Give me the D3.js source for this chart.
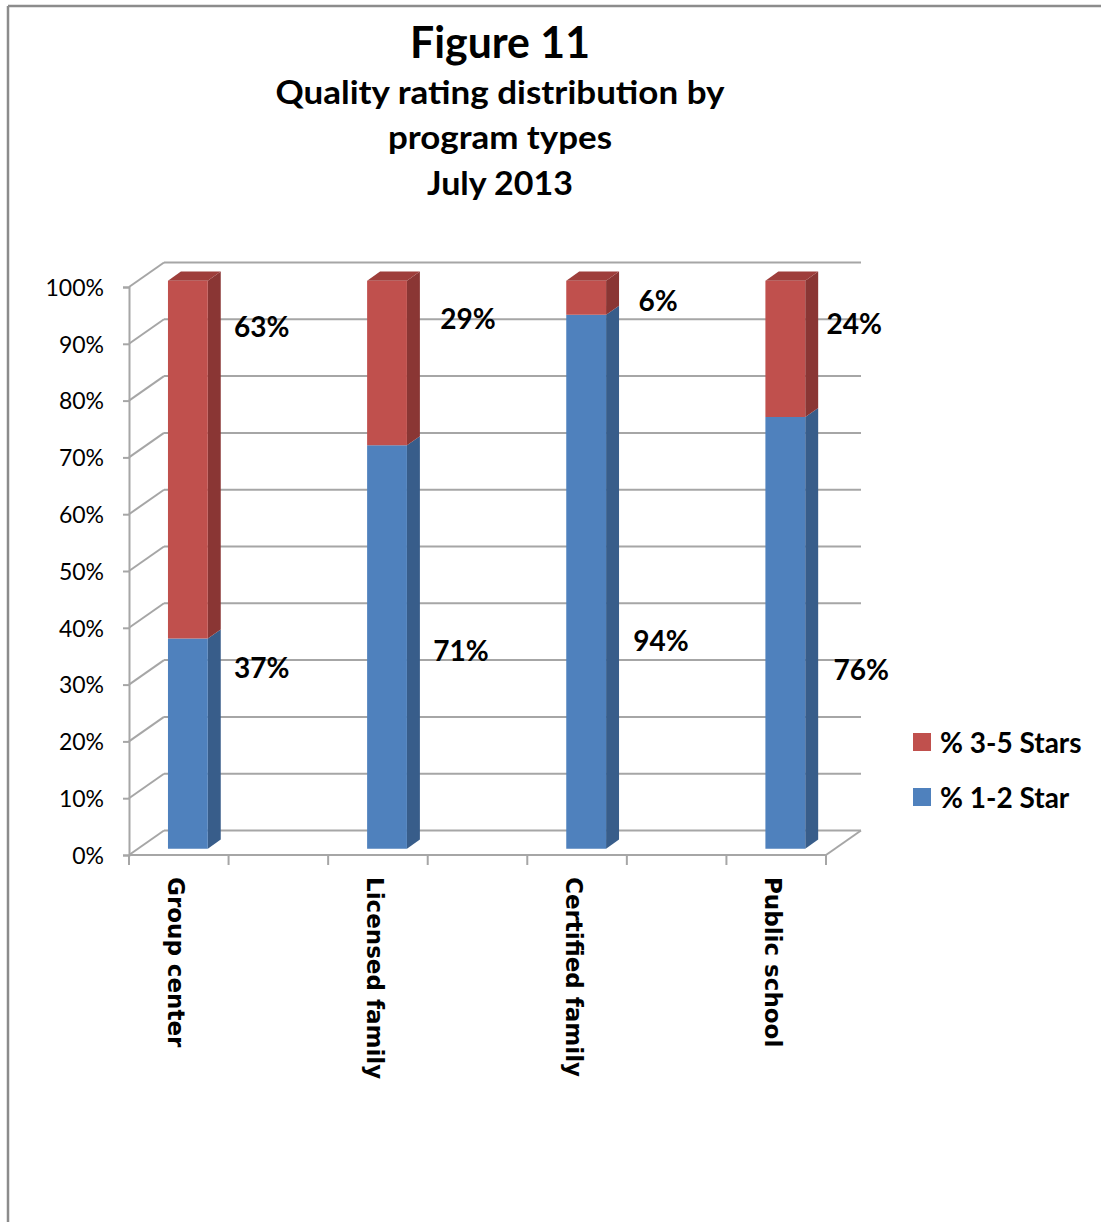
<!DOCTYPE html>
<html>
<head>
<meta charset="utf-8">
<script src="https://cdnjs.cloudflare.com/ajax/libs/d3/7.8.5/d3.min.js"></script>
<style>
  html, body { margin: 0; padding: 0; background: #fff; }
  svg { display: block; }
</style>
</head>
<body>
<svg id="chart" width="1101" height="1222"></svg>
<script>
// ---------------- data ----------------
const titleLines = ["Figure 11", "Quality rating distribution by", "program types", "July 2013"];
const categories = ["Group center", "", "Licensed family", "", "Certified family", "", "Public school"];
const star12 = [37, null, 71, null, 94, null, 76];   // % 1-2 Star
const star35 = [63, null, 29, null, 6, null, 24];    // % 3-5 Stars
const seriesNames = ["% 3-5 Stars", "% 1-2 Star"];
const yTicks = [0, 10, 20, 30, 40, 50, 60, 70, 80, 90, 100];

// ---------------- layout ----------------
const W = 1101, H = 1222;
const plot = { left: 129, right: 826, top: 287, bottom: 855 };
const DX = 35, DY = -24.5;              // depth offset of back wall
const barFront = 0.26, barBack = 0.63;  // depth fractions of bar faces
const barFrac = 0.4;                    // bar width as fraction of band
// manual data label anchors (axis units) and horizontal offsets
const topLabelAt = [93, 94.4, 97.5, 93.5];
const topLabelDx = [83, 90, 81, 78];
const botLabelAt = [33, 35.9, 37.7, 32.6];
const botLabelDx = [83, 83, 84, 85];

const colors = {
  redFront: "#C0504D", redSide: "#8A3634", redTop: "#9E3E3B",
  blueFront: "#4F81BD", blueSide: "#385D8A", blueTop: "#4470A5",
  grid: "#A6A6A6"
};
const FONT = "Lato, 'Open Sans', sans-serif";

const svg = d3.select("#chart");

// outer border (top and left)
svg.append("line").attr("x1", 8).attr("y1", 6).attr("x2", W).attr("y2", 6)
  .attr("stroke", "#8c8c8c").attr("stroke-width", 2.5);
svg.append("line").attr("x1", 8).attr("y1", 6).attr("x2", 8).attr("y2", H)
  .attr("stroke", "#8c8c8c").attr("stroke-width", 2.5);

// title
const titleSpec = [
  { y: 58, size: 44, len: 180 },
  { y: 104, size: 33, len: 449 },
  { y: 149, size: 33, len: 224 },
  { y: 195, size: 33, len: 146 }
];
svg.append("g").selectAll("text").data(titleLines).join("text")
  .attr("x", 500).attr("y", (d, i) => titleSpec[i].y)
  .attr("text-anchor", "middle")
  .attr("font-family", FONT).attr("font-weight", "bold")
  .attr("font-size", (d, i) => titleSpec[i].size)
  .attr("textLength", (d, i) => titleSpec[i].len)
  .attr("lengthAdjust", "spacingAndGlyphs")
  .attr("fill", "#000")
  .text(d => d);

// scales
const x = d3.scaleBand().domain(d3.range(categories.length))
  .range([plot.left, plot.right]).paddingInner(0).paddingOuter(0);
const y = d3.scaleLinear().domain([0, 100]).range([plot.bottom, plot.top]);
const P = (px, v, d) => [px + d * DX, y(v) + d * DY];

// gridlines: back wall + left wall diagonals
const grid = svg.append("g").attr("stroke", colors.grid).attr("stroke-width", 2).attr("fill", "none");
grid.selectAll("line.back").data(yTicks).join("line").attr("class", "back")
  .attr("x1", plot.left + DX).attr("x2", plot.right + DX)
  .attr("y1", d => y(d) + DY).attr("y2", d => y(d) + DY);
grid.selectAll("line.side").data(yTicks).join("line").attr("class", "side")
  .attr("x1", plot.left).attr("y1", d => y(d))
  .attr("x2", plot.left + DX).attr("y2", d => y(d) + DY);
// floor outline: right edge
grid.append("line")
  .attr("x1", plot.right).attr("y1", y(0))
  .attr("x2", plot.right + DX).attr("y2", y(0) + DY);

// y axis
const yAxis = svg.append("g").attr("transform", `translate(${plot.left},0)`)
  .call(d3.axisLeft(y).tickValues(yTicks).tickFormat(d => d + "%").tickSize(6).tickPadding(19));
yAxis.select(".domain").attr("stroke", colors.grid).attr("stroke-width", 2);
yAxis.selectAll(".tick line").attr("stroke", colors.grid).attr("stroke-width", 2);
yAxis.selectAll(".tick text").attr("font-family", FONT).attr("font-size", 23)
  .attr("fill", "#000").attr("dy", "0.36em");

// x axis (floor front edge + boundary ticks)
const xAxis = svg.append("g");
xAxis.append("line").attr("x1", plot.left).attr("x2", plot.right)
  .attr("y1", y(0)).attr("y2", y(0)).attr("stroke", colors.grid).attr("stroke-width", 2);
const bounds = d3.range(categories.length).map(i => x(i)).concat([plot.right]);
xAxis.selectAll("line.tick").data(bounds).join("line").attr("class", "tick")
  .attr("x1", d => d).attr("x2", d => d)
  .attr("y1", y(0)).attr("y2", y(0) + 10)
  .attr("stroke", colors.grid).attr("stroke-width", 2);
const xLab = svg.append("g").attr("transform", `translate(0,${y(0)})`)
  .call(d3.axisBottom(x).tickSize(0).tickFormat(i => categories[i]));
xLab.select(".domain").remove();
xLab.selectAll(".tick text")
  .attr("font-family", "'DejaVu Sans', Verdana, sans-serif")
  .attr("font-weight", "bold").attr("font-size", 23).attr("fill", "#000")
  .attr("text-anchor", "start")
  .attr("transform", "translate(-3,22) rotate(90)")
  .attr("x", 0).attr("y", 0).attr("dy", "0.35em");

// bars
const idx = d3.range(categories.length).filter(i => star12[i] != null);
const bw = x.bandwidth() * barFrac;
const poly = pts => pts.map(p => p.join(",")).join(" ");
const barG = svg.append("g");
function segment(i, v0, v1, front, side, top) {
  const xl = x(i) + (x.bandwidth() - bw) / 2, xr = xl + bw;
  const g = barG.append("g");
  g.append("polygon").attr("fill", side).attr("points", poly([
    P(xr, v0, barFront), P(xr, v0, barBack), P(xr, v1, barBack), P(xr, v1, barFront)]));
  if (top) g.append("polygon").attr("fill", top).attr("points", poly([
    P(xl, v1, barFront), P(xr, v1, barFront), P(xr, v1, barBack), P(xl, v1, barBack)]));
  g.append("polygon").attr("fill", front).attr("points", poly([
    P(xl, v0, barFront), P(xr, v0, barFront), P(xr, v1, barFront), P(xl, v1, barFront)]));
}
idx.forEach(i => {
  segment(i, 0, star12[i], colors.blueFront, colors.blueSide, null);
  segment(i, star12[i], star12[i] + star35[i], colors.redFront, colors.redSide, colors.redTop);
});

// data labels
const lab = svg.append("g").attr("font-family", FONT).attr("font-weight", "bold")
  .attr("font-size", 28).attr("text-anchor", "middle").attr("fill", "#000");
idx.forEach((i, k) => {
  const cx = x(i) + x.bandwidth() / 2;
  lab.append("text").attr("x", cx + topLabelDx[k]).attr("y", y(topLabelAt[k]))
    .attr("dy", "0.36em").text(star35[i] + "%");
  lab.append("text").attr("x", cx + botLabelDx[k]).attr("y", y(botLabelAt[k]))
    .attr("dy", "0.36em").text(star12[i] + "%");
});

// legend
const legend = svg.append("g").attr("transform", "translate(913,733)");
const legColors = [colors.redFront, colors.blueFront];
seriesNames.forEach((name, k) => {
  const g = legend.append("g").attr("transform", `translate(0,${k * 55})`);
  g.append("rect").attr("width", 18).attr("height", 18).attr("fill", legColors[k]);
  g.append("text").attr("x", 27).attr("y", 20)
    .attr("font-family", FONT).attr("font-weight", "bold").attr("font-size", 28)
    .attr("fill", "#000").text(name);
});
</script>
</body>
</html>
